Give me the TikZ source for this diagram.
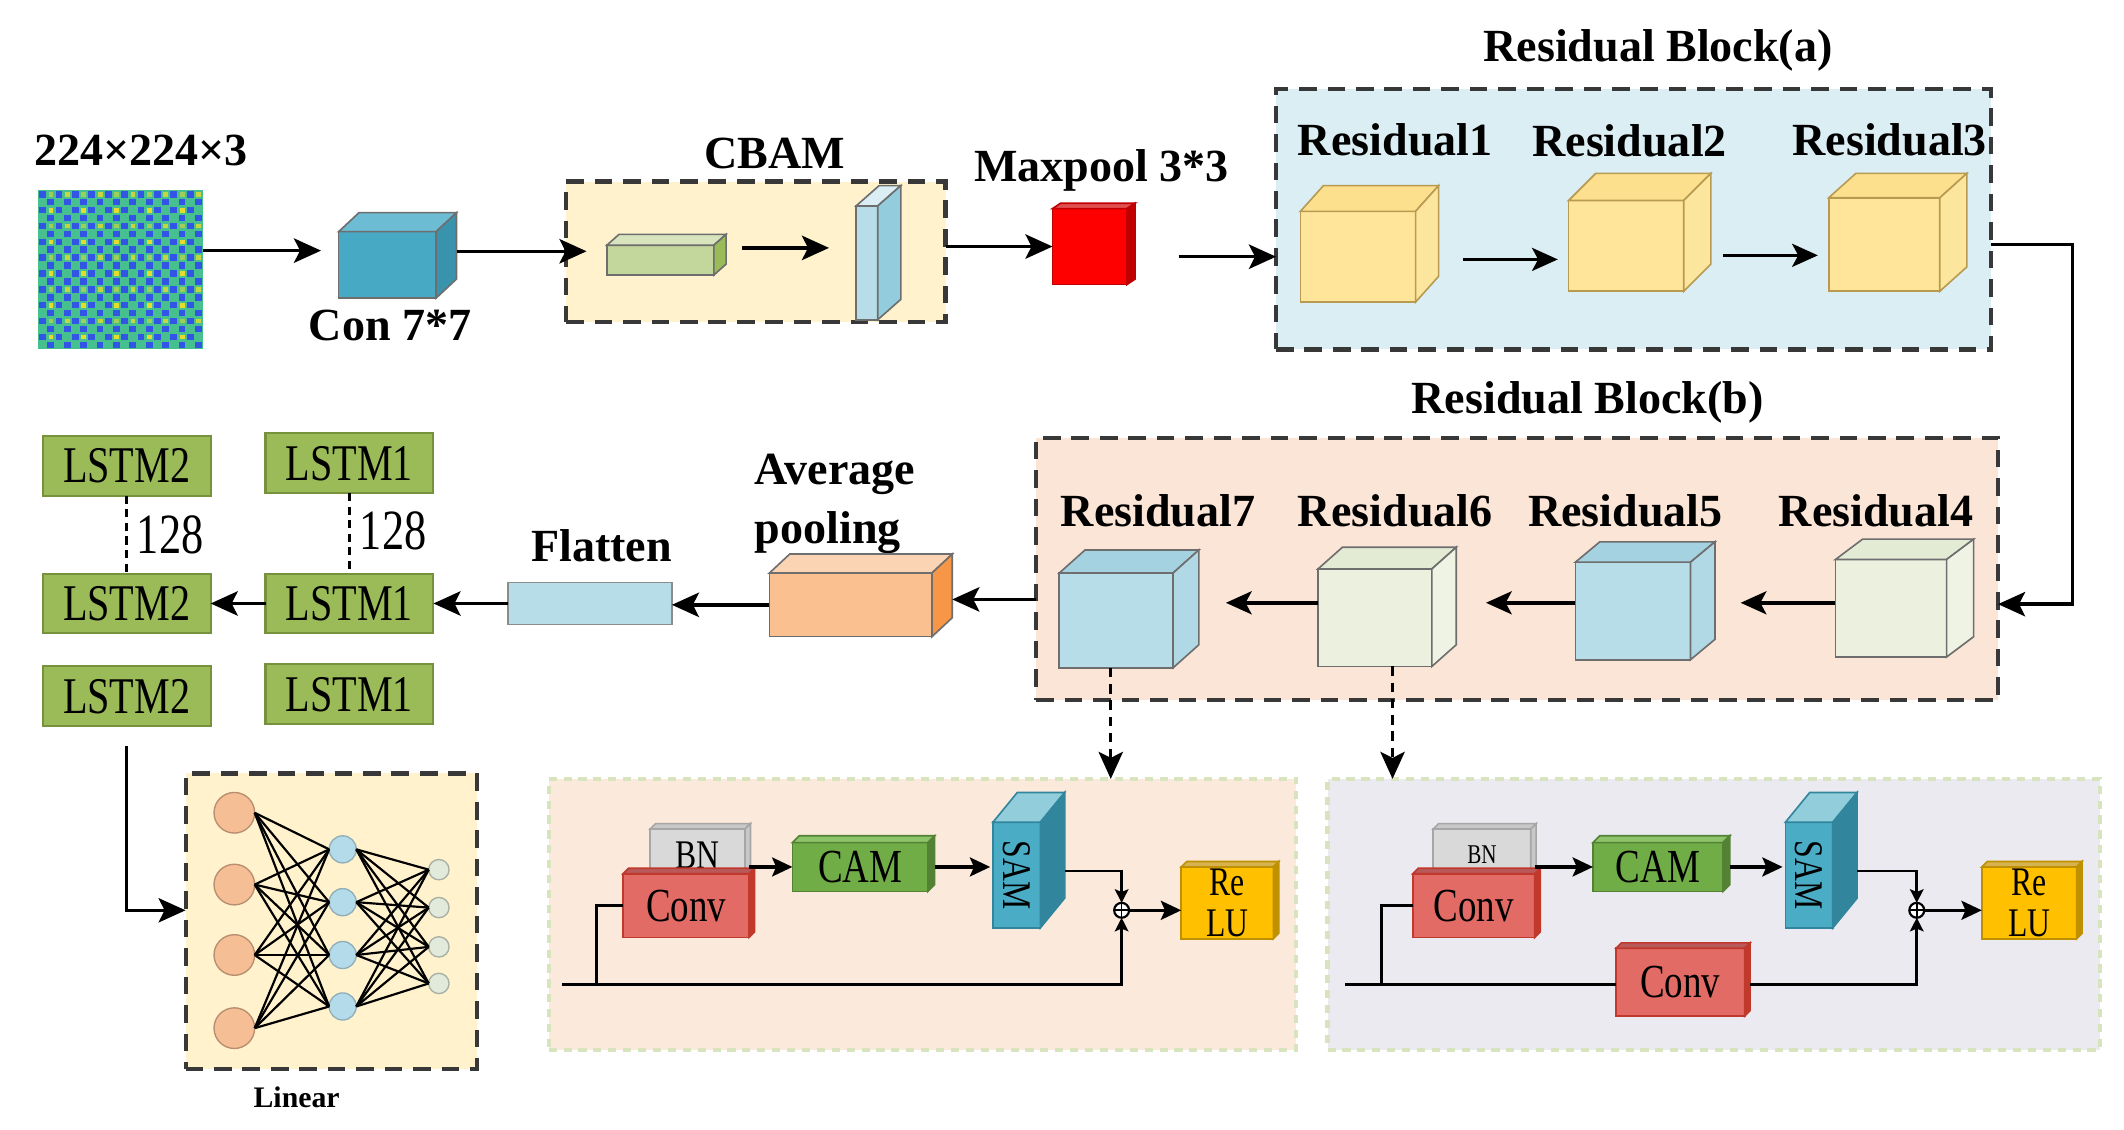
\documentclass[tikz,border=0pt]{standalone}
\usepackage{fontspec}
\setmainfont{Liberation Serif}
\newfontfamily\condf[FakeStretch=0.78]{Liberation Serif}
\usetikzlibrary{arrows.meta,calc}
\definecolor{edgec}{HTML}{6E6E6E}
\definecolor{conf}{HTML}{47A9C4}\definecolor{contop}{HTML}{6CBCD3}\definecolor{conside}{HTML}{3A93AD}
\definecolor{cbamf}{HTML}{FFF2CC}
\definecolor{grf}{HTML}{C3D69B}\definecolor{grtop}{HTML}{D7E4BD}\definecolor{grside}{HTML}{9BBB59}
\definecolor{plf}{HTML}{B7DDE8}\definecolor{pltop}{HTML}{DAEEF3}\definecolor{plside}{HTML}{93CDDD}
\definecolor{redf}{HTML}{FF0000}\definecolor{redtop}{HTML}{E05050}\definecolor{redside}{HTML}{C00000}
\definecolor{baf}{HTML}{DBEEF4}\definecolor{bbf}{HTML}{FBE5D6}
\definecolor{yef}{HTML}{FEE599}\definecolor{yetop}{HTML}{FDE08E}\definecolor{yeside}{HTML}{FCE59C}\definecolor{yeedge}{HTML}{B89A50}
\definecolor{blf}{HTML}{B7DDE8}\definecolor{bltop}{HTML}{A5D2E0}\definecolor{blside}{HTML}{B0D8E5}
\definecolor{lgf}{HTML}{EBF1DE}\definecolor{lgtop}{HTML}{E4EBD4}\definecolor{lgside}{HTML}{EEF3E3}
\definecolor{avf}{HTML}{FAC090}\definecolor{avtop}{HTML}{FBD4B4}\definecolor{avside}{HTML}{F79646}
\definecolor{lstmf}{HTML}{9BBB59}\definecolor{lstme}{HTML}{76923C}
\definecolor{subl}{HTML}{FBE9DC}\definecolor{subr}{HTML}{ECEAF1}\definecolor{subedge}{HTML}{D7E4BD}
\definecolor{bnf}{HTML}{D9D9D9}\definecolor{bntop}{HTML}{C8C8C8}
\definecolor{cvf}{HTML}{E26B65}\definecolor{cvtop}{HTML}{B85A5A}\definecolor{cvside}{HTML}{C0392B}
\definecolor{camf}{HTML}{70AD47}\definecolor{camtop}{HTML}{8DC36A}\definecolor{camside}{HTML}{548235}
\definecolor{samf}{HTML}{4BACC6}\definecolor{samtop}{HTML}{92CDDC}\definecolor{samside}{HTML}{31859C}
\definecolor{reluf}{HTML}{FFC000}\definecolor{relutop}{HTML}{D6B350}\definecolor{reluside}{HTML}{BF9000}
\definecolor{imgbase}{HTML}{45C08E}\definecolor{imgblue}{HTML}{3355E6}\definecolor{imgyel}{HTML}{E6DC30}
\definecolor{orc}{HTML}{F6BE95}\definecolor{blc}{HTML}{B4DBE9}\definecolor{smc}{HTML}{E2EADB}
\newcommand\boxfaces[6]{%
  \filldraw[draw=#6, line width=1.2pt, fill=#4] (#1.north west) -- ([shift={(#2,-#3)}]#1.north west) -- ([shift={(#2,-#3)}]#1.north east) -- (#1.north east) -- cycle;
  \filldraw[draw=#6, line width=1.2pt, fill=#5] (#1.north east) -- ([shift={(#2,-#3)}]#1.north east) -- ([shift={(#2,-#3)}]#1.south east) -- (#1.south east) -- cycle;}
\newcommand\lblf{\bfseries\fontsize{34}{38}\selectfont}
\begin{document}
\begin{tikzpicture}[x=1pt,y=-1pt,
  arr/.style={draw=black, line width=2.5pt, -{Stealth[length=20pt,width=18pt,inset=4.5pt]}},
  sarr/.style={draw=black, line width=2.5pt, -{Stealth[length=19pt,width=17pt,inset=4.5pt]}},
  tarr/.style={draw=black, line width=2pt, -{Stealth[length=10pt,width=10pt,inset=2pt]}},
  marr/.style={draw=black, line width=2.4pt, -{Stealth[length=15pt,width=14pt,inset=3pt]}},
  plain/.style={draw=black, line width=2.2pt},
  bigbox/.style={draw=black!78, line width=3pt, dash pattern=on 13pt off 8pt, inner sep=0, outer sep=0},
  subbox/.style={draw=subedge, line width=3pt, dash pattern=on 6pt off 5pt, inner sep=0, outer sep=0},
  fr/.style={draw=#1, line width=1.2pt, inner sep=0, outer sep=0, rectangle},
  fr/.default=edgec,
  lbl/.style={font=\lblf, inner sep=0},
  lstm/.style={draw=lstme, line width=1.5pt, fill=lstmf, minimum width=124, minimum height=44, inner sep=0, outer sep=0, font=\condf\fontsize{38}{40}\selectfont},
  ctxt/.style={font=\condf\fontsize{35}{38}\selectfont},
  neuro/.style={circle, inner sep=0, outer sep=0, line width=1pt},
]
\useasboundingbox (0,0) rectangle (1568,833.5);
\fill[white] (0,0) rectangle (1568,833.5);

% ---------- background boxes ----------
\node[bigbox, fill=cbamf, minimum width=280, minimum height=104] (cbam) at (558,186) {};
\node[bigbox, fill=baf, minimum width=528, minimum height=192] (ba) at (1206,162) {};
\node[bigbox, fill=bbf, minimum width=710, minimum height=194] (bb) at (1120,420) {};
\node[bigbox, fill=cbamf, minimum width=215, minimum height=218] (lin) at (244.5,680) {};
\node[subbox, fill=subl, minimum width=552, minimum height=200] (sl) at (681,675) {};
\node[subbox, fill=subr, minimum width=570, minimum height=200] (sr) at (1265,675) {};

% ---------- labels ----------
\node[lbl] (t224) at (104,111) {224×224×3};
\node[lbl] (tcon) at (288,240) {Con 7*7};
\node[lbl] (tcbam) at (572,113) {CBAM};
\node[lbl] (tmax) at (813,126) {Maxpool 3*3};
\node[lbl] (tba) at (1224,37) {Residual Block(a)};
\node[lbl] (tr1) at (1030,103) {Residual1};
\node[lbl] (tr2) at (1203,104) {Residual2};
\node[lbl] (tr3) at (1395,103) {Residual3};
\node[lbl] (tbb) at (1172,297) {Residual Block(b)};
\node[lbl] (tr7) at (855,377) {Residual7};
\node[lbl] (tr6) at (1030,377) {Residual6};
\node[lbl] (tr5) at (1200,377) {Residual5};
\node[lbl] (tr4) at (1385,377) {Residual4};
\node[lbl, align=left, anchor=west, font=\bfseries\fontsize{34}{43}\selectfont] (tavg) at (557,372) {Average\\pooling};
\node[lbl] (tfl) at (444,403) {Flatten};
\node[lbl, font=\bfseries\fontsize{22}{24}\selectfont] (tlin) at (219,810) {Linear};

% ---------- input image ----------
\node[inner sep=0, outer sep=0, minimum width=122, minimum height=118, fill=imgbase] (img) at (89,199) {};
\foreach \i in {0,...,19}{\foreach \j in {0,...,19}{%
  \pgfmathtruncatemacro\k{mod(\i+\j,2)}%
  \pgfmathtruncatemacro\ya{mod(\i,4)}\pgfmathtruncatemacro\yb{mod(\j,4)}%
  \ifnum\k=0 \fill[imgblue] (29+6.05*\i,141+5.85*\j) rectangle ++(5,4.8);\fi
  \ifnum\ya=1 \ifnum\yb=2 \fill[imgyel] (29.8+6.05*\i,141.8+5.85*\j) rectangle ++(3.6,3.4);\fi\fi
  \ifnum\ya=3 \ifnum\yb=0 \fill[imgyel!80!imgbase] (29.8+6.05*\i,141.8+5.85*\j) rectangle ++(3.6,3.4);\fi\fi
  \ifnum\ya=1 \ifnum\yb=0 \fill[imgyel!55!imgbase] (29.8+6.05*\i,141.8+5.85*\j) rectangle ++(3.6,3.4);\fi\fi
}}

% ---------- top row cubes ----------
\node[fr, fill=conf, minimum width=72, minimum height=49] (con) at (286,195.5) {};
\boxfaces{con}{15}{14}{contop}{conside}{edgec}
\node[fr, fill=grf, minimum width=79, minimum height=22] (g1) at (487.5,192) {};
\boxfaces{g1}{9}{8}{grtop}{grside}{edgec}
\node[fr, fill=plf, minimum width=16, minimum height=84] (pl) at (640,194) {};
\boxfaces{pl}{17}{15}{pltop}{plside}{edgec}
\node[fr=redside, fill=redf, minimum width=55, minimum height=56] (red) at (804.5,182) {};
\boxfaces{red}{6}{4}{redtop}{redside}{redside}
\node[fr=yeedge, fill=yef, minimum width=85, minimum height=67] (r1) at (1002.5,189.5) {};
\boxfaces{r1}{17}{19}{yetop}{yeside}{yeedge}
\node[fr=yeedge, fill=yef, minimum width=85, minimum height=67] (r2) at (1200.5,181.5) {};
\boxfaces{r2}{20}{20}{yetop}{yeside}{yeedge}
\node[fr=yeedge, fill=yef, minimum width=82, minimum height=69] (r3) at (1391,180.5) {};
\boxfaces{r3}{20}{18}{yetop}{yeside}{yeedge}

% ---------- block (b) cubes ----------
\node[fr, fill=blf, minimum width=84, minimum height=70] (r7) at (824,458) {};
\boxfaces{r7}{19}{17}{bltop}{blside}{edgec}
\node[fr, fill=lgf, minimum width=84, minimum height=72] (r6) at (1015,456) {};
\boxfaces{r6}{18}{16}{lgtop}{lgside}{edgec}
\node[fr, fill=blf, minimum width=85, minimum height=72] (r5) at (1205.5,451) {};
\boxfaces{r5}{18}{15}{bltop}{blside}{edgec}
\node[fr, fill=lgf, minimum width=82, minimum height=72] (r4) at (1396,449) {};
\boxfaces{r4}{20}{15}{lgtop}{lgside}{edgec}

% ---------- middle row ----------
\node[fr, fill=avf, minimum width=120, minimum height=47] (avg) at (628,446.5) {};
\boxfaces{avg}{15}{14}{avtop}{avside}{edgec}
\node[fr=black!45, fill=blf, minimum width=121, minimum height=31] (flat) at (435.5,445.5) {};
\node[lstm] (l1a) at (258,342) {LSTM1};
\node[lstm] (l1b) at (258,445.5) {LSTM1};
\node[lstm] (l1c) at (258,512.5) {LSTM1};
\node[lstm] (l2a) at (93.5,344) {LSTM2};
\node[lstm] (l2b) at (93.5,445.5) {LSTM2};
\node[lstm] (l2c) at (93.5,514) {LSTM2};

% ---------- neural net ----------
\foreach \n/\y in {1/600,2/653,3/705,4/759}{\node[neuro, draw=orc!75!black, fill=orc, minimum size=30] (o\n) at (173,\y) {};}
\foreach \n/\y in {1/627,2/666,3/705,4/743}{\node[neuro, draw=blc!80!black, fill=blc, minimum size=20] (b\n) at (253,\y) {};}
\foreach \n/\y in {1/642,2/670,3/699,4/726}{\node[neuro, draw=smc!75!black, fill=smc, minimum size=15] (s\n) at (324,\y) {};}
\foreach \a in {1,...,4}{\foreach \b in {1,...,4}{%
  \draw[line width=1.6pt] (o\a.east) -- (b\b.west);
  \draw[line width=1.6pt] (b\a.east) -- (s\b.west);}}

% ---------- sub block left ----------
\node[fr=black!35, fill=bnf, minimum width=70, minimum height=38, font=\condf\fontsize{30}{32}\selectfont] (bnl) at (515,631) {\raisebox{-9pt}{BN}};
\boxfaces{bnl}{4}{4}{bntop}{bntop}{black!35}
\node[fr=cvside, fill=cvf, minimum width=93, minimum height=47, ctxt] (convl) at (506.5,668.5) {Conv};
\boxfaces{convl}{4}{4}{cvtop}{cvside}{cvside}
\node[fr=camside, fill=camf, minimum width=100, minimum height=36, ctxt] (caml) at (635,640) {CAM};
\boxfaces{caml}{5}{5}{camtop}{camside}{camside}
\node[fr=samside, fill=samf, minimum width=35, minimum height=78] (saml) at (750.5,646) {\rotatebox{-90}{\condf\fontsize{30}{32}\selectfont SAM}};
\boxfaces{saml}{18}{22}{samtop}{samside}{samside}
\node[fr=reluside, fill=reluf, minimum width=68, minimum height=53, align=center, font=\condf\fontsize{30}{30}\selectfont] (relul) at (906,666.5) {Re\\LU};
\boxfaces{relul}{4}{4}{relutop}{reluside}{reluside}
\node[circle, draw=black, line width=1.6pt, fill=white, minimum size=11, inner sep=0, outer sep=0,
  path picture={\draw[line width=1.2pt] (path picture bounding box.north) -- (path picture bounding box.south) (path picture bounding box.west) -- (path picture bounding box.east);}] (addl) at (828,672) {};
\coordinate (sl0) at (415,727);
\coordinate (brl) at (440,727);

% ---------- sub block right ----------
\node[fr=black!35, fill=bnf, minimum width=72, minimum height=38, font=\condf\fontsize{20}{22}\selectfont] (bnr) at (1094,631) {\raisebox{-6pt}{BN}};
\boxfaces{bnr}{4}{4}{bntop}{bntop}{black!35}
\node[fr=cvside, fill=cvf, minimum width=90, minimum height=47, ctxt] (convr) at (1088,668.5) {Conv};
\boxfaces{convr}{4}{4}{cvtop}{cvside}{cvside}
\node[fr=camside, fill=camf, minimum width=96, minimum height=36, ctxt] (camr) at (1224,640) {CAM};
\boxfaces{camr}{5}{5}{camtop}{camside}{camside}
\node[fr=samside, fill=samf, minimum width=35, minimum height=78] (samr) at (1335.5,646) {\rotatebox{-90}{\condf\fontsize{30}{32}\selectfont SAM}};
\boxfaces{samr}{18}{22}{samtop}{samside}{samside}
\node[fr=reluside, fill=reluf, minimum width=70, minimum height=53, align=center, font=\condf\fontsize{30}{30}\selectfont] (relur) at (1498,666.5) {Re\\LU};
\boxfaces{relur}{4}{4}{relutop}{reluside}{reluside}
\node[fr=cvside, fill=cvf, minimum width=95, minimum height=50, ctxt] (conv2) at (1240.5,725) {Conv};
\boxfaces{conv2}{4}{4}{cvtop}{cvside}{cvside}
\node[circle, draw=black, line width=1.6pt, fill=white, minimum size=11, inner sep=0, outer sep=0,
  path picture={\draw[line width=1.2pt] (path picture bounding box.north) -- (path picture bounding box.south) (path picture bounding box.west) -- (path picture bounding box.east);}] (addr) at (1415,672) {};
\coordinate (sr0) at (993,727);
\coordinate (brr) at (1020,727);

% ---------- connectors top row ----------
\draw[arr] ([yshift=14pt]img.east) -- ([xshift=-13pt,yshift=14pt]img.east -| con.west);
\draw[arr] ([xshift=15pt,yshift=10pt]con.east) -- ([xshift=15pt,yshift=10pt]con.east -| cbam.west);
\draw[arr] ([xshift=21pt,yshift=9pt]g1.east) -- ([xshift=-20pt,yshift=9pt]g1.east -| pl.west);
\draw[arr] (red -| cbam.east) -- (red.west);
\draw[arr] ([xshift=-72pt]ba.west |- r1) -- (ba.west |- r1);
\draw[sarr] ([xshift=35pt,yshift=-2pt]r1.east) -- ([xshift=-8pt,yshift=-2pt]r1.east -| r2.west);
\draw[sarr] ([xshift=29pt,yshift=-7pt]r2.east) -- ([xshift=-8pt,yshift=-7pt]r2.east -| r3.west);
\draw[arr] (r3 -| ba.east) -- ++(60,0) |- ([yshift=3pt]r4 -| bb.east);

% ---------- connectors block (b) ----------
\draw[sarr] ([yshift=4pt]r4.west) -- ([xshift=37pt,yshift=4pt]r4.west -| r5.east);
\draw[sarr] ([yshift=6pt]r5.west) -- ([xshift=40pt,yshift=6pt]r5.west -| r6.east);
\draw[sarr] ([yshift=11pt]r6.west) -- ([xshift=39pt,yshift=11pt]r6.west -| r7.east);
\draw[arr] ([yshift=4pt]bb.west |- avg) -- ([xshift=15pt,yshift=4pt]avg.east);
\draw[arr] (avg.west) -- (avg.west -| flat.east);
\draw[arr] (flat.west) -- (flat.west -| l1b.east);
\draw[arr] (l1b.west) -- (l2b.east);
\draw[line width=2.6pt, dash pattern=on 6pt off 4pt] (l2a.south) -- (l2b.north) node[midway, right, xshift=3pt, font=\condf\fontsize{42}{44}\selectfont] (n128a) {128};
\draw[line width=2.6pt, dash pattern=on 6pt off 4pt] (l1a.south) -- (l1b.north) node[midway, right, xshift=3pt, yshift=2pt, font=\condf\fontsize{42}{44}\selectfont] (n128b) {128};
\draw[arr, line width=2pt] ([yshift=-15pt]l2c.south) |- ([yshift=8pt]lin.west);

% ---------- dashed arrows to sub blocks ----------
\draw[arr, line width=2.2pt, dash pattern=on 7pt off 5pt] ([xshift=-4pt]r7.south) -- ([xshift=-4pt]r7.south |- sl.north);
\draw[arr, line width=2.2pt, dash pattern=on 7pt off 5pt] ([xshift=13pt]r6.south) -- ([xshift=13pt]r6.south |- sr.north);

% ---------- connectors sub left ----------
\draw[marr] (convl.east |- caml.west) -- (caml.west);
\draw[marr] ([xshift=5pt]caml.east) -- ([xshift=-2pt]caml.east -| saml.west);
\draw[tarr] ([xshift=18pt,yshift=3pt]saml.east) -| (addl.north);
\draw[tarr] (sl0) -| (addl.south);
\draw[plain] (brl) |- (convl.west);
\draw[marr] (addl.east) -- (addl.east -| relul.west);

% ---------- connectors sub right ----------
\draw[marr] (convr.east |- camr.west) -- (camr.west);
\draw[marr] ([xshift=5pt]camr.east) -- ([xshift=-2pt]camr.east -| samr.west);
\draw[tarr] ([xshift=18pt,yshift=3pt]samr.east) -| (addr.north);
\draw[plain] (sr0) -- (sr0 -| conv2.west);
\draw[tarr] ([xshift=4pt,yshift=-2pt]conv2.east) -| (addr.south);
\draw[plain] (brr) |- (convr.west);
\draw[marr] (addr.east) -- (addr.east -| relur.west);
\end{tikzpicture}
\end{document}
